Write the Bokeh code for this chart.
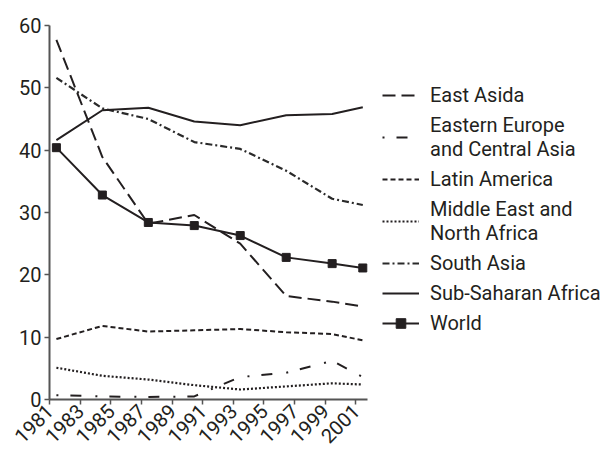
from bokeh.plotting import figure
from bokeh.models import Range1d, FixedTicker, Legend, LegendItem
from bokeh.embed import file_html
from bokeh.resources import INLINE
import math

years = [1981, 1984, 1987, 1990, 1993, 1996, 1999, 2001]
east_asia = [57.7, 38.9, 28.2, 29.6, 25.0, 16.6, 15.7, 14.9]
eeca = [0.7, 0.5, 0.4, 0.5, 3.6, 4.3, 6.2, 3.6]
latin_america = [9.7, 11.8, 10.9, 11.1, 11.3, 10.8, 10.5, 9.5]
mena = [5.1, 3.8, 3.2, 2.3, 1.6, 2.1, 2.6, 2.4]
south_asia = [51.6, 46.7, 45.0, 41.3, 40.2, 36.7, 32.2, 31.2]
ssa = [41.6, 46.4, 46.8, 44.6, 44.0, 45.6, 45.8, 46.9]
world = [40.4, 32.8, 28.4, 27.9, 26.3, 22.8, 21.8, 21.1]

tick_years = [1981, 1983, 1985, 1987, 1989, 1991, 1993, 1995, 1997, 1999, 2001]
y_ticks = [0, 10, 20, 30, 40, 50, 60]
TICK_OFFSET = 0.45

FONT = "Roboto"
INK = "#231f20"

FIG_W, FIG_H = 604, 452
BORDER_L, BORDER_T, BORDER_B, BORDER_R = 49, 25, 53, 0
PX_PER_YEAR = 15.32
x_start = 1981 - TICK_OFFSET
x_axis_end = 2001.3
x_end = x_start + (FIG_W - BORDER_L - BORDER_R) / PX_PER_YEAR

p = figure(width=FIG_W, height=FIG_H, output_backend="svg", toolbar_location=None,
           x_range=Range1d(x_start, x_end), y_range=Range1d(0, 60),
           min_border_left=BORDER_L, min_border_top=BORDER_T,
           min_border_bottom=BORDER_B, min_border_right=BORDER_R)
p.outline_line_color = None
p.xgrid.visible = False
p.ygrid.visible = False

r_ea = p.line(years, east_asia, line_color=INK, line_width=2, line_dash="13 6")
r_ee = p.line(years, eeca, line_color=INK, line_width=2, line_dash="2 12 11 14")
r_la = p.line(years, latin_america, line_color=INK, line_width=2, line_dash="5 3")
r_me = p.line(years, mena, line_color=INK, line_width=2.2, line_dash="2 2")
r_sa = p.line(years, south_asia, line_color="#2a2a2a", line_width=2.2, line_dash="7 3 2 3")
r_ss = p.line(years, ssa, line_color=INK, line_width=2)
r_w = p.line(years, world, line_color=INK, line_width=2)
r_wm = p.scatter(years, world, marker="square", size=8, fill_color=INK, line_color=INK)

tick_pos = [y - TICK_OFFSET for y in tick_years]
p.xaxis.ticker = FixedTicker(ticks=tick_pos)
p.xaxis.major_label_overrides = {t: str(y) for t, y in zip(tick_pos, tick_years)}
p.xaxis.major_label_orientation = math.pi / 4
p.xaxis.bounds = (x_start, x_axis_end)
p.yaxis.ticker = FixedTicker(ticks=y_ticks)
for ax in (p.xaxis, p.yaxis):
    ax.axis_line_color = "#555555"
    ax.axis_line_width = 2
    ax.major_tick_line_color = "#555555"
    ax.major_tick_line_width = 1.5
    ax.major_tick_out = 5
    ax.major_tick_in = 0
    ax.minor_tick_line_color = None
    ax.major_label_text_font = FONT
    ax.major_label_text_font_size = "20px"
    ax.major_label_text_color = INK
    ax.major_label_standoff = 3

legend = Legend(items=[
    LegendItem(label="East Asida", renderers=[r_ea]),
    LegendItem(label="Eastern Europe\nand Central Asia", renderers=[r_ee]),
    LegendItem(label="Latin America", renderers=[r_la]),
    LegendItem(label="Middle East and\nNorth Africa", renderers=[r_me]),
    LegendItem(label="South Asia", renderers=[r_sa]),
    LegendItem(label="Sub-Saharan Africa", renderers=[r_ss]),
    LegendItem(label="World", renderers=[r_w, r_wm]),
], location=(333, 64))
legend.border_line_color = None
legend.background_fill_alpha = 0
legend.padding = 0
legend.margin = 0
legend.spacing = 6
legend.glyph_width = 37
legend.glyph_height = 24
legend.label_height = 24
legend.label_standoff = 11
legend.label_text_font = FONT
legend.label_text_font_size = "20px"
legend.label_text_color = INK
p.add_layout(legend)

open("out.html", "w").write(file_html(p, INLINE))
